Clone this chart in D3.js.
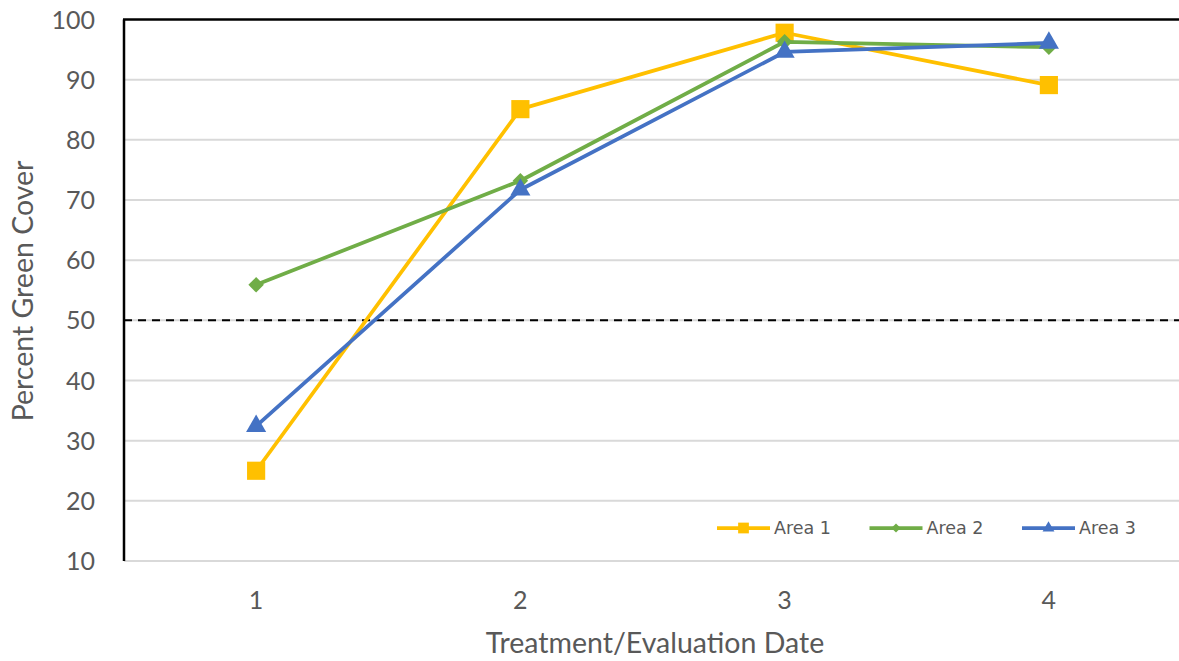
<!DOCTYPE html>
<html>
<head>
<meta charset="utf-8">
<script src="https://cdnjs.cloudflare.com/ajax/libs/d3/7.8.5/d3.min.js"></script>
<style>
  body { margin: 0; background: #fff; }
  text { font-family: Lato, "Liberation Sans", sans-serif; fill: #595959; }
  text.legend-label { font-family: "DejaVu Sans", sans-serif; }
</style>
</head>
<body>
<svg id="chart" width="1179" height="661"></svg>
<script>
// chart data
var dates = ["1", "2", "3", "4"];
var area1 = [25, 85.1, 97.8, 89.1];
var area2 = [55.9, 73.2, 96.3, 95.4];
var area3 = [32.4, 71.7, 94.6, 96.1];
var yTicks = [10, 20, 30, 40, 50, 60, 70, 80, 90, 100];
var threshold = 50;

var series = [
  {name: "Area 1", values: area1, color: "#FFC000", shape: d3.symbolSquare, size: 330, rot: 0},
  {name: "Area 2", values: area2, color: "#70AD47", shape: d3.symbolSquare, size: 120, rot: 45},
  {name: "Area 3", values: area3, color: "#4472C4", shape: d3.symbolTriangle, size: 175, rot: 0}
];

var svg = d3.select("#chart");
var margin = {top: 19.5, right: -2, bottom: 100, left: 124};
var width = 1179 - margin.left - margin.right,
    height = 661 - margin.top - margin.bottom;

var x = d3.scalePoint().domain(dates).range([0, width]).padding(0.5);
var y = d3.scaleLinear().domain([10, 100]).range([height, 0]);

var g = svg.append("g")
  .attr("transform", "translate(" + margin.left + "," + margin.top + ")");

// gridlines
g.selectAll(".grid")
  .data(yTicks.filter(function(d){ return d < 100; }))
  .enter().append("line")
    .attr("x1", 0).attr("x2", width)
    .attr("y1", function(d){ return y(d); })
    .attr("y2", function(d){ return y(d); })
    .attr("stroke", "#D9D9D9")
    .attr("stroke-width", 2);

// top border + left axis line
g.append("line").attr("x1", -1).attr("x2", width).attr("y1", 0).attr("y2", 0)
  .attr("stroke", "#000").attr("stroke-width", 2.5);
g.append("line").attr("x1", 0).attr("x2", 0).attr("y1", 0).attr("y2", height)
  .attr("stroke", "#000").attr("stroke-width", 2.5);

// 50% threshold
g.append("line")
  .attr("x1", 0).attr("x2", width)
  .attr("y1", y(threshold)).attr("y2", y(threshold))
  .attr("stroke", "#000").attr("stroke-width", 2)
  .attr("stroke-dasharray", "8,6");

// y tick labels
g.selectAll(".ytick")
  .data(yTicks)
  .enter().append("text")
    .attr("x", -29)
    .attr("y", function(d){ return y(d); })
    .attr("dy", "0.36em")
    .attr("text-anchor", "end")
    .attr("font-size", 25)
    .text(function(d){ return d; });

// x tick labels
g.selectAll(".xtick")
  .data(dates)
  .enter().append("text")
    .attr("x", function(d){ return x(d); })
    .attr("y", height + 48)
    .attr("text-anchor", "middle")
    .attr("font-size", 25)
    .text(function(d){ return d; });

// axis titles
svg.append("text")
  .attr("x", 655).attr("y", 653)
  .attr("text-anchor", "middle")
  .attr("font-size", 28.5)
  .text("Treatment/Evaluation Date");

svg.append("text")
  .attr("transform", "translate(33,291) rotate(-90)")
  .attr("text-anchor", "middle")
  .attr("font-size", 28.5)
  .text("Percent Green Cover");

// lines + markers
var line = d3.line()
  .x(function(d, i){ return x(dates[i]); })
  .y(function(d){ return y(d); });

series.forEach(function(s){
  g.append("path")
    .attr("d", line(s.values))
    .attr("fill", "none")
    .attr("stroke", s.color)
    .attr("stroke-width", 3.75)
    .attr("stroke-linejoin", "round");
  g.selectAll(null)
    .data(s.values)
    .enter().append("path")
      .attr("d", d3.symbol().type(s.shape).size(s.size))
      .attr("transform", function(d, i){
        return "translate(" + x(dates[i]) + "," + y(d) + ") rotate(" + s.rot + ")";
      })
      .attr("fill", s.color);
});

// legend
var legend = svg.append("g").attr("transform", "translate(717,528)");
series.forEach(function(s, i){
  var lg = legend.append("g").attr("transform", "translate(" + (i * 152.5) + ",0)");
  lg.append("line").attr("x1", 0).attr("x2", 53).attr("y1", 0).attr("y2", 0)
    .attr("stroke", s.color).attr("stroke-width", 3.75);
  lg.append("path")
    .attr("d", d3.symbol().type(s.shape).size(s.size * 0.35))
    .attr("transform", "translate(26.5,0) rotate(" + s.rot + ")")
    .attr("fill", s.color);
  lg.append("text").attr("class", "legend-label")
    .attr("x", 57).attr("y", 0).attr("dy", "0.36em")
    .attr("font-size", 17.5).text(s.name);
});
</script>
</body>
</html>
